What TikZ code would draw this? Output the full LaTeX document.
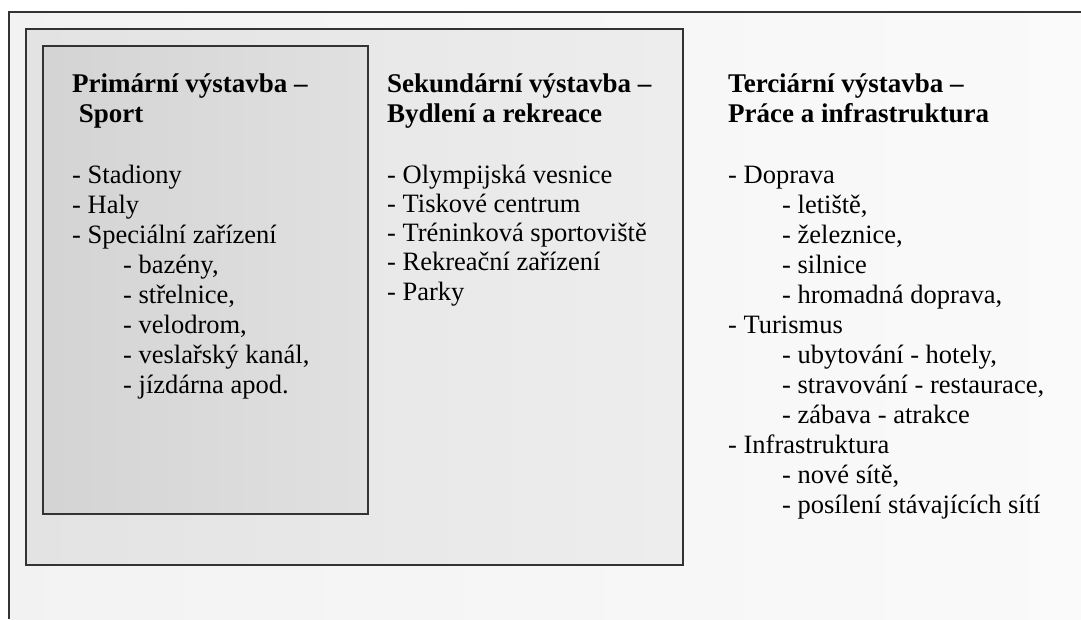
\documentclass[tikz,border=0pt]{standalone}
\usepackage{fontspec}
\setmainfont{Liberation Serif}
\usetikzlibrary{positioning}

\begin{document}
\begin{tikzpicture}[
    x = 1pt, y = -1pt,
    font = \fontsize{26.5}{30}\selectfont
  ]

  \useasboundingbox (0,0) rectangle (1081,619);

  \tikzstyle {every node} = [color = black, inner sep = 0, anchor = base west]
  \tikzstyle {frame} = [draw = black!80, line width = 1.2pt]
  \tikzstyle {head} = [font = \fontsize{27}{30}\selectfont\bfseries]

  % boxes
  \fill [left color = black!5, right color = black!2] (9,12) rectangle (1081,619);
  \draw [frame] (1081,12) -- (9,12) -- (9,619);
  \path [frame, left color = black!11, right color = black!7] (26,29) rectangle (683,565);
  \path [frame, left color = black!17, right color = black!12] (43,46) rectangle (368,514);

  \node [head] (h1) at (72,92) {Primární výstavba –};
  \node [head] (h1b) at (72,122) {~Sport};
  \node [head] (h2) at (387,92) {Sekundární výstavba –};
  \node [head] (h2b) at (387,122) {Bydlení a rekreace};
  \node [head] (h3) at (728,92) {Terciární výstavba –};
  \node [head] (h3b) at (728,122) {Práce a infrastruktura};

  \foreach \l/\t [count=\i from 0] in {0/Stadiony, 0/Haly, 0/Speciální zařízení,
      1/{bazény,}, 1/{střelnice,}, 1/{velodrom,}, 1/{veslařský kanál,}, 1/jízdárna apod.}
    \node (a\i) at ({72+51*\l}, {183+30*\i}) {- \t};

  \foreach \t [count=\i from 0] in {Olympijská vesnice, Tiskové centrum,
      Tréninková sportoviště, Rekreační zařízení, Parky}
    \node (b\i) at (387, {183+29.3*\i}) {- \t};

  \foreach \l/\t [count=\i from 0] in {0/Doprava, 1/{letiště,}, 1/{železnice,}, 1/silnice,
      1/{hromadná doprava,}, 0/Turismus, 1/{ubytování - hotely,}, 1/{stravování - restaurace,},
      1/zábava - atrakce, 0/Infrastruktura, 1/{nové sítě,}, 1/posílení stávajících sítí}
    \node (c\i) at ({728+54*\l}, {183+30*\i}) {- \t};
\end{tikzpicture}
\end{document}
